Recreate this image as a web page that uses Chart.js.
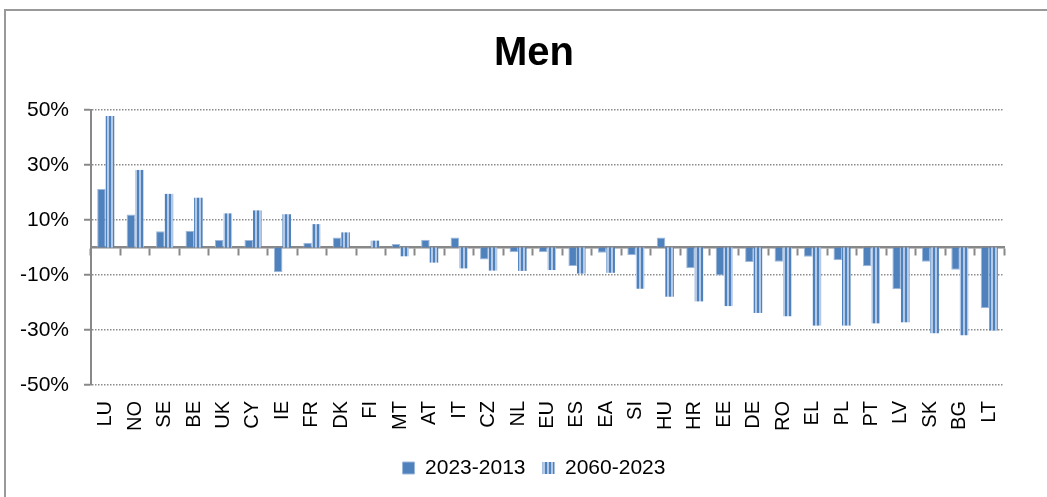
<!DOCTYPE html>
<html>
<head>
<meta charset="utf-8">
<script src="https://cdn.jsdelivr.net/npm/chart.js@4/dist/chart.umd.min.js"></script>
<style>
  html, body { margin: 0; padding: 0; background: #fff; overflow: hidden; }
  #frame { position: absolute; left: 4px; top: 9px; width: 1100px; height: 600px; border: 2px solid #999; pointer-events: none; }
  #c { position: absolute; left: 0; top: 0; }
</style>
</head>
<body>
<canvas id="c" width="1068" height="497" style="width:1068px;height:497px"></canvas>
<div id="frame"></div>
<script>
// country codes along the x axis
const countries = ['LU', 'NO', 'SE', 'BE', 'UK', 'CY', 'IE', 'FR', 'DK', 'FI', 'MT', 'AT', 'IT', 'CZ', 'NL', 'EU',
  'ES', 'EA', 'SI', 'HU', 'HR', 'EE', 'DE', 'RO', 'EL', 'PL', 'PT', 'LV', 'SK', 'BG', 'LT'];

// change in %
const change2023_2013 = [21.3, 12.0, 5.9, 6.1, 2.7, 2.7, -9.0, 1.7, 3.6, 0.0, 1.3, 2.8, 3.6, -4.4, -1.7, -1.7,
  -6.7, -1.9, -2.8, 3.6, -7.5, -10.2, -5.3, -5.2, -3.4, -4.6, -6.8, -15.2, -5.2, -8.1, -22.1];
const change2060_2023 = [47.8, 28.2, 19.5, 18.1, 12.4, 13.5, 12.1, 8.5, 5.5, 2.5, -3.2, -5.5, -7.6, -8.4, -8.5, -8.2,
  -9.5, -9.2, -15.0, -17.9, -19.6, -21.3, -23.8, -25.0, -28.4, -28.4, -27.6, -27.2, -31.2, -31.9, -30.2];

const seriesNames = ['2023-2013', '2060-2023'];
const yMin = -50;
const yMax = 50;
const yStep = 20;

const FONT = "'Liberation Sans', Arial, sans-serif";
const BLUE = '#4F81BD';
const LIGHT = '#B4C9E5';

// vertical stripes for the second series
function stripePattern() {
  const p = document.createElement('canvas');
  p.width = 4;
  p.height = 4;
  const pc = p.getContext('2d');
  pc.fillStyle = LIGHT;
  pc.fillRect(0, 0, 4, 4);
  pc.fillStyle = BLUE;
  pc.fillRect(1, 0, 2, 4);
  return pc.createPattern(p, 'repeat');
}

const ctx = document.getElementById('c').getContext('2d');
new Chart(ctx, {
  type: 'bar',
  data: {
    labels: countries,
    datasets: [{
      label: seriesNames[0],
      data: change2023_2013,
      backgroundColor: BLUE,
      borderColor: '#9DB8DA',
      borderWidth: 1,
      xAxisID: 'x',
      yAxisID: 'y'
    }, {
      label: seriesNames[1],
      data: change2060_2023,
      backgroundColor: stripePattern(),
      borderColor: LIGHT,
      borderWidth: 0,
      xAxisID: 'x',
      yAxisID: 'y'
    }]
  },
  options: {
    responsive: false,
    animation: false,
    layout: { padding: { left: 0, right: 0, top: 0, bottom: 8.5 } },
    categoryPercentage: 0.58,
    barPercentage: 1.0,
    plugins: {
      title: {
        display: true,
        text: 'Men',
        color: '#000',
        font: { family: FONT, size: 40, weight: 'bold' },
        padding: { top: 30, bottom: 32 }
      },
      legend: {
        position: 'bottom',
        labels: {
          color: '#000',
          font: { family: FONT, size: 21 },
          boxWidth: 12,
          boxHeight: 12,
          padding: 17
        }
      },
      tooltip: { enabled: false }
    },
    scales: {
      // category labels at the bottom
      x: {
        position: 'bottom',
        offset: true,
        grid: { display: false, drawTicks: false, offset: true },
        border: { display: false },
        ticks: {
          color: '#000',
          font: { family: FONT, size: 20 },
          minRotation: 90,
          maxRotation: 90,
          autoSkip: false,
          padding: 16
        },
        afterFit: (s) => { s.height = 55.5; }
      },
      // zero line with its tick marks
      xz: {
        type: 'category',
        axis: 'x',
        position: { y: 0 },
        offset: true,
        grid: { display: true, drawOnChartArea: false, drawTicks: true, tickLength: 7, offset: true,
          color: '#888', tickColor: '#888', tickWidth: 2 },
        border: { display: true, color: '#888', width: 2.5 },
        ticks: { display: false }
      },
      y: {
        position: 'left',
        min: yMin,
        max: yMax,
        ticks: {
          stepSize: yStep,
          color: '#000',
          font: { family: FONT, size: 21 },
          padding: 15,
          callback: (v) => v + '%'
        },
        grid: { color: '#8c8c8c', lineWidth: 1.5, tickLength: 7, tickColor: '#888', tickWidth: 2 },
        border: { display: true, color: '#888', width: 2, dash: [1.5, 1.5] },
        afterFit: (s) => { s.width = 91; }
      },
      // empty right margin so title and legend centre like the original
      yR: {
        position: 'right',
        display: true,
        grid: { display: false },
        border: { display: false },
        ticks: { display: false },
        afterFit: (s) => { s.width = 64; }
      }
    }
  }
});
</script>
</body>
</html>
